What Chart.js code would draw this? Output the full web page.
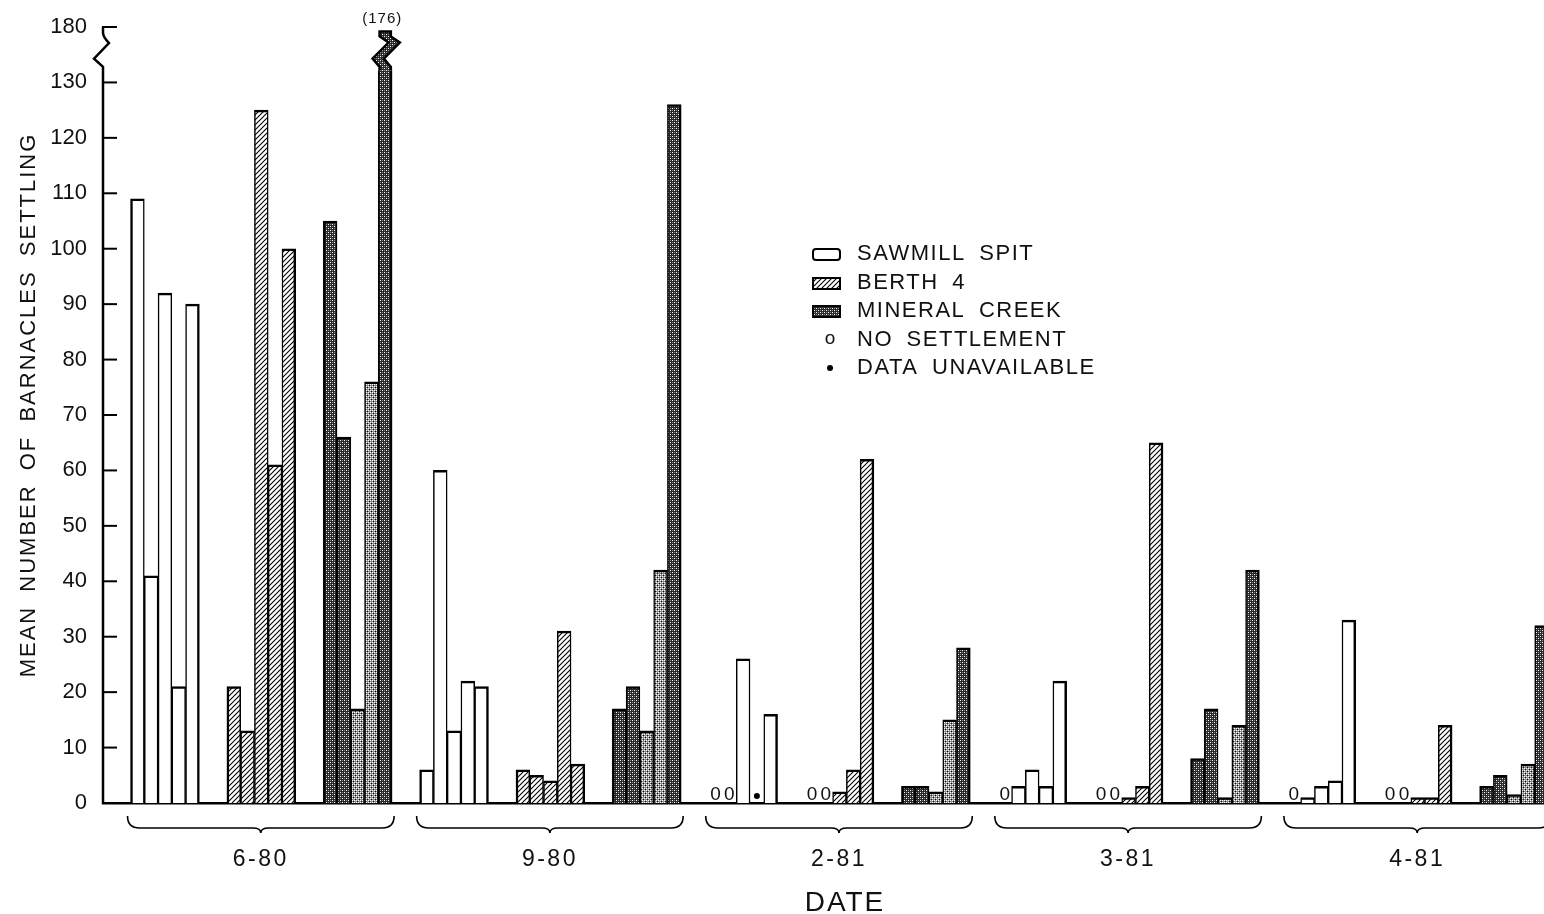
<!DOCTYPE html>
<html>
<head>
<meta charset="utf-8">
<script src="https://cdn.jsdelivr.net/npm/chart.js@4.4.1/dist/chart.umd.min.js"></script>
<style>
  html, body { margin: 0; padding: 0; background: #fff; overflow: hidden; }
  #contenedor { width: 1576px; height: 914px; }
</style>
</head>
<body>
<div id="contenedor"><canvas id="grafica" width="1576" height="914"></canvas></div>
<script>
// --- Datos ---
const fechas = ['6-80', '9-80', '2-81', '3-81', '4-81'];
const sitios = ['SAWMILL SPIT', 'BERTH 4', 'MINERAL CREEK'];

// cinco paneles por sitio y fecha; null = sin datos
const sawmillSpit = [
  [109, 41, 92, 21, 90],
  [6, 60, 13, 22, 21],
  [0, 0, 26, null, 16],
  [0, 3, 6, 3, 22],
  [0, 1, 3, 4, 33]
];
const berth4 = [
  [21, 13, 125, 61, 100],
  [6, 5, 4, 31, 7],
  [0, 0, 2, 6, 62],
  [0, 0, 1, 3, 65],
  [0, 0, 1, 1, 14]
];
const mineralCreek = [
  [105, 66, 17, 76, 176],
  [17, 21, 13, 42, 126],
  [3, 3, 2, 15, 28],
  [8, 17, 1, 14, 42],
  [3, 5, 1.5, 7, 32]
];

const yTicks = [0, 10, 20, 30, 40, 50, 60, 70, 80, 90, 100, 110, 120, 130, 180];

// --- Corte del eje: de 130 a 180 ocupa un solo intervalo ---
const CORTE = 130;
const TOPE = 180;
const comprimir = v => v <= CORTE ? v : CORTE + (v - CORTE) * 10 / (TOPE - CORTE);

// --- Posiciones en el eje x (huecos entre sitios y fechas) ---
const SLOTS_INICIO = 2;
const SLOTS_SITIO = 7;
const SLOTS_GRUPO = 21;
const totalSlots = SLOTS_INICIO + fechas.length * SLOTS_GRUPO;
const slot = (g, s, r) => SLOTS_INICIO + g * SLOTS_GRUPO + s * SLOTS_SITIO + r;
const replica = i => ((i - SLOTS_INICIO) % SLOTS_GRUPO) % SLOTS_SITIO;

const series = [sawmillSpit, berth4, mineralCreek];
const crudos = series.map((serie, s) => {
  const arr = new Array(totalSlots).fill(undefined);
  serie.forEach((valores, g) => valores.forEach((v, r) => { arr[slot(g, s, r)] = v; }));
  return arr;
});

// --- Patrones de relleno ---
const canvas = document.getElementById('grafica');
const ctxBase = canvas.getContext('2d');

const crearPatron = (tam, dibujar) => {
  const c = document.createElement('canvas');
  c.width = tam;
  c.height = tam;
  dibujar(c.getContext('2d'), tam);
  return ctxBase.createPattern(c, 'repeat');
};

const rayado = crearPatron(5, (g, t) => {
  g.fillStyle = '#fff';
  g.fillRect(0, 0, t, t);
  g.strokeStyle = '#000';
  g.lineWidth = 1.1;
  g.beginPath();
  g.moveTo(0, t); g.lineTo(t, 0);
  g.moveTo(-1, 1); g.lineTo(1, -1);
  g.moveTo(t - 1, t + 1); g.lineTo(t + 1, t - 1);
  g.stroke();
});

const punteadoOscuro = crearPatron(4, g => {
  g.fillStyle = '#2a2a2a';
  g.fillRect(0, 0, 4, 4);
  g.fillStyle = '#fff';
  g.fillRect(0, 0, 1, 1);
  g.fillRect(2, 2, 1, 1);
  g.fillStyle = '#888';
  g.fillRect(0, 2, 1, 1);
  g.fillRect(2, 0, 1, 1);
});

const punteadoClaro = crearPatron(4, g => {
  g.fillStyle = '#8a8a8a';
  g.fillRect(0, 0, 4, 4);
  g.fillStyle = '#fff';
  g.fillRect(0, 0, 1, 1);
  g.fillRect(2, 2, 1, 1);
  g.fillRect(0, 2, 1, 1);
  g.fillRect(2, 0, 1, 1);
  g.fillStyle = '#111';
  g.fillRect(1, 1, 1, 1);
  g.fillRect(3, 3, 1, 1);
});

const rellenos = [
  () => '#fff',
  () => rayado,
  i => (replica(i) === 2 || replica(i) === 3) ? punteadoClaro : punteadoOscuro
];

// --- Funciones auxiliares de dibujo ---
const FUENTE = '"Liberation Sans", Arial, sans-serif';
const TINTA = '#111';

const texto = (ctx, str, x, y, tam, espacio = 1.5, align = 'center') => {
  ctx.save();
  ctx.font = `${tam}px ${FUENTE}`;
  ctx.fillStyle = TINTA;
  ctx.textAlign = align;
  ctx.textBaseline = 'middle';
  ctx.letterSpacing = `${espacio}px`;
  ctx.wordSpacing = '6px';
  ctx.fillText(str, x, y);
  ctx.restore();
};

const llave = (ctx, xa, xb, yTop, yLinea) => {
  const xm = (xa + xb) / 2;
  ctx.beginPath();
  ctx.moveTo(xa, yTop);
  ctx.quadraticCurveTo(xa, yLinea, xa + 12, yLinea);
  ctx.lineTo(xm - 8, yLinea);
  ctx.quadraticCurveTo(xm, yLinea, xm, yLinea + 5);
  ctx.quadraticCurveTo(xm, yLinea, xm + 8, yLinea);
  ctx.lineTo(xb - 12, yLinea);
  ctx.quadraticCurveTo(xb, yLinea, xb, yTop);
  ctx.stroke();
};

const dibujarCorte = (ctx, y, el, relleno) => {
  const { x: cx, y: top, width } = el.getProps(['x', 'y', 'width'], true);
  const L = cx - width / 2 + 1.25;
  const R = cx + width / 2 - 1.25;
  const yA = y.getPixelForValue(138.3);
  const yB = y.getPixelForValue(137.2);
  const yC = y.getPixelForValue(134.3);
  const yD = y.getPixelForValue(132.8);
  const yE = y.getPixelForValue(132.2);
  ctx.fillStyle = '#fff';
  ctx.fillRect(L - 14, top - 4, width + 28, yE - top + 4);
  ctx.beginPath();
  ctx.moveTo(L, yE); ctx.lineTo(L, yD); ctx.lineTo(L - 7, yC); ctx.lineTo(L + 9, yB); ctx.lineTo(L, yA); ctx.lineTo(L, top);
  ctx.lineTo(R, top); ctx.lineTo(R, yA); ctx.lineTo(R + 9, yB); ctx.lineTo(R - 7, yC); ctx.lineTo(R, yD); ctx.lineTo(R, yE);
  ctx.fillStyle = relleno;
  ctx.fill();
  ctx.strokeStyle = '#000';
  ctx.lineWidth = 2.5;
  ctx.stroke();
};

// --- Plugin: eje con corte, marcas, llaves, leyenda ---
const detalles = {
  id: 'detalles',
  afterDraw(chart) {
    const { ctx, chartArea, scales: { x, y } } = chart;
    const x0 = chartArea.left;
    const anchoSlot = x.getPixelForValue(1) - x.getPixelForValue(0);
    ctx.save();
    ctx.strokeStyle = '#000';
    ctx.lineCap = 'butt';

    // eje y con zigzag entre 130 y 180
    ctx.lineWidth = 2.5;
    ctx.beginPath();
    ctx.moveTo(x0, chartArea.bottom + 1);
    ctx.lineTo(x0, y.getPixelForValue(132.8));
    ctx.quadraticCurveTo(x0 - 3, y.getPixelForValue(133.3), x0 - 9, y.getPixelForValue(134.3));
    ctx.lineTo(x0 + 6, y.getPixelForValue(137.1));
    ctx.quadraticCurveTo(x0, y.getPixelForValue(138.2), x0, y.getPixelForValue(139));
    ctx.lineTo(x0, y.getPixelForValue(140));
    ctx.stroke();

    // marcas hacia dentro
    ctx.lineWidth = 2;
    y.ticks.forEach(t => {
      const py = y.getPixelForValue(t.value);
      ctx.beginPath();
      ctx.moveTo(x0 - 1, py);
      ctx.lineTo(x0 + 14, py);
      ctx.stroke();
    });

    // barras que pasan del corte
    chart.data.datasets.forEach((ds, d) => {
      const meta = chart.getDatasetMeta(d);
      crudos[d].forEach((v, i) => {
        if (v != null && v > CORTE) {
          const el = meta.data[i];
          dibujarCorte(ctx, y, el, rellenos[d](i));
          texto(ctx, `(${v})`, el.x - 3, 19, 15, 1);
        }
      });
    });

    // 0 = sin asentamiento, punto = sin datos
    crudos.forEach(arr => arr.forEach((v, i) => {
      const px = x.getPixelForValue(i);
      if (v === 0) {
        ctx.save();
        ctx.font = `19px ${FUENTE}`;
        ctx.fillStyle = TINTA;
        ctx.textAlign = 'center';
        ctx.textBaseline = 'alphabetic';
        ctx.fillText('0', px, chartArea.bottom - 3);
        ctx.restore();
      } else if (v === null) {
        ctx.fillStyle = '#000';
        ctx.beginPath();
        ctx.arc(px, chartArea.bottom - 7, 3, 0, Math.PI * 2);
        ctx.fill();
      }
    }));

    // llaves y fechas
    ctx.lineWidth = 1.6;
    fechas.forEach((f, g) => {
      const xa = x.getPixelForValue(slot(g, 0, 0)) - anchoSlot / 2 - 3;
      const xb = x.getPixelForValue(slot(g, 2, 4)) + anchoSlot / 2 + 2;
      llave(ctx, xa, xb, chartArea.bottom + 13, chartArea.bottom + 25);
      texto(ctx, f, (xa + xb) / 2, chartArea.bottom + 57, 23, 2.5);
    });
    texto(ctx, 'DATE', 845, 903, 28, 2);

    // titulo del eje y
    ctx.save();
    ctx.translate(29, 405);
    ctx.rotate(-Math.PI / 2);
    texto(ctx, 'MEAN NUMBER OF BARNACLES SETTLING', 0, 0, 22, 2);
    ctx.restore();

    // leyenda
    const lx = 813, tx = 857;
    const filas = [254, 283, 311, 340, 368];
    [null, rayado, punteadoOscuro].forEach((patron, k) => {
      const fy = filas[k] - 5;
      ctx.beginPath();
      if (k === 0) {
        ctx.roundRect(lx, fy, 27, 11, 3);
        ctx.fillStyle = '#fff';
      } else {
        ctx.rect(lx, fy, 27, 11);
        ctx.fillStyle = patron;
      }
      ctx.fill();
      ctx.lineWidth = 2;
      ctx.stroke();
      texto(ctx, sitios[k], tx, filas[k], 22, 1.5, 'left');
    });
    texto(ctx, 'o', 830, filas[3] - 1, 19, 0);
    texto(ctx, 'NO SETTLEMENT', tx, filas[3], 22, 1.5, 'left');
    ctx.fillStyle = '#000';
    ctx.beginPath();
    ctx.arc(830, filas[4], 3, 0, Math.PI * 2);
    ctx.fill();
    texto(ctx, 'DATA UNAVAILABLE', tx, filas[4], 22, 1.5, 'left');

    ctx.restore();
  }
};

// --- Grafica ---
const anchoBorde = ctx => {
  const r = replica(ctx.index);
  return { top: 2.5, left: r === 0 ? 2.5 : 1.5, right: r === 4 ? 2.5 : 1.5, bottom: 0 };
};

const datasets = sitios.map((nombre, d) => ({
  label: nombre,
  data: crudos[d].map(v => v == null ? null : comprimir(v)),
  backgroundColor: ctx => rellenos[d](ctx.index),
  borderColor: '#000',
  borderWidth: anchoBorde,
  borderSkipped: 'start',
  barPercentage: 1,
  categoryPercentage: 1,
  grouped: false
}));

new Chart(canvas, {
  type: 'bar',
  data: {
    labels: new Array(totalSlots).fill(''),
    datasets
  },
  options: {
    responsive: false,
    animation: false,
    layout: { padding: { top: 27, bottom: 111, left: 0, right: 0 } },
    plugins: {
      legend: { display: false },
      tooltip: { enabled: false }
    },
    scales: {
      x: {
        type: 'category',
        grid: { display: false },
        ticks: { display: false },
        border: { display: true, color: '#000', width: 2.5 },
        afterFit: s => { s.height = 0; }
      },
      y: {
        min: 0,
        max: comprimir(TOPE),
        grid: { display: false },
        border: { display: false },
        afterBuildTicks: s => { s.ticks = yTicks.map(v => ({ value: comprimir(v) })); },
        ticks: {
          color: TINTA,
          padding: 8,
          font: { family: FUENTE, size: 22 },
          callback: (val, i) => yTicks[i]
        },
        afterFit: s => { s.width = 103; }
      }
    }
  },
  plugins: [detalles]
});
</script>
</body>
</html>
